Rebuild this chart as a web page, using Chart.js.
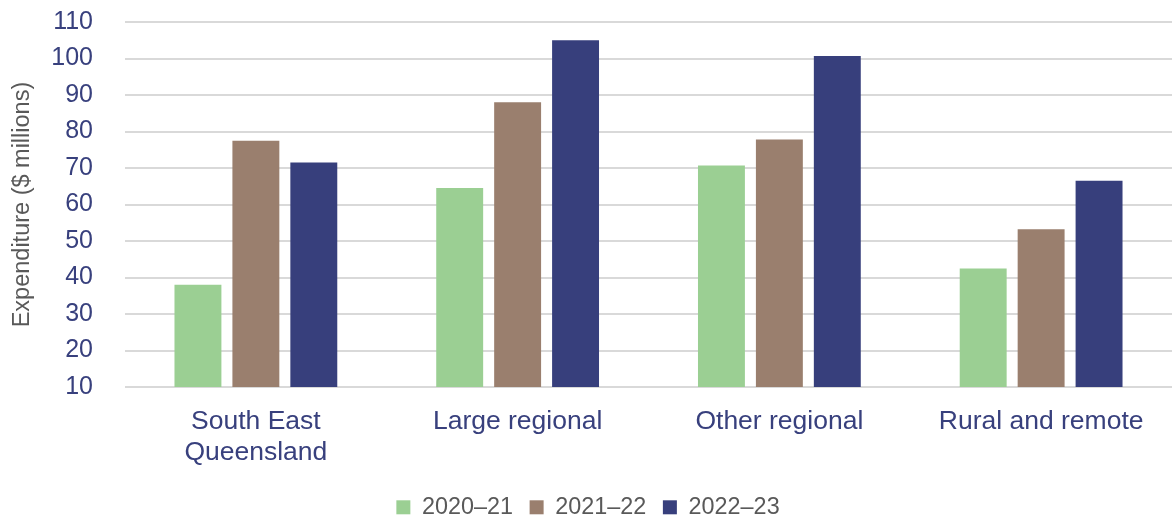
<!DOCTYPE html>
<html>
<head>
<meta charset="utf-8">
<script src="https://cdn.jsdelivr.net/npm/chart.js@4"></script>
<style>
  html, body { margin: 0; padding: 0; background: #fff; }
  #wrap { width: 1172px; height: 519px; position: relative; }
</style>
</head>
<body>
<div id="wrap"><canvas id="expChart"></canvas></div>
<script>
// Regions (x axis)
var regions = [['South East', 'Queensland'], 'Large regional', 'Other regional', 'Rural and remote'];
// Expenditure in $ millions, per financial year
var fy2021 = [38, 64.5, 70.7, 42.5];
var fy2122 = [77.5, 88, 77.8, 53.2];
var fy2223 = [71.5, 105, 100.7, 66.5];
var seriesNames = ['2020\u201321', '2021\u201322', '2022\u201323'];
var yTicks = { min: 10, max: 110, step: 10 };

var tickBlue = '#38407d';
var greyText = '#595959';
var fontFam = 'Liberation Sans, Arial, sans-serif';

var ctx = document.getElementById('expChart').getContext('2d');
new Chart(ctx, {
    type: 'bar',
    data: {
        labels: regions,
        datasets: [
            { label: seriesNames[0], data: fy2021, backgroundColor: '#9bcf93' },
            { label: seriesNames[1], data: fy2122, backgroundColor: '#9a7f6e' },
            { label: seriesNames[2], data: fy2223, backgroundColor: '#373f7c' }
        ]
    },
    options: {
        responsive: true,
        maintainAspectRatio: false,
        animation: false,
        layout: { padding: { left: 4, right: 0, top: 22, bottom: -10 } },
        datasets: {
            bar: { categoryPercentage: 0.664, barPercentage: 0.81 }
        },
        plugins: {
            tooltip: { enabled: false },
            legend: {
                position: 'bottom',
                labels: {
                    font: { family: fontFam, size: 23.4 },
                    color: greyText,
                    boxWidth: 14,
                    boxHeight: 14,
                    padding: 16.5
                }
            }
        },
        scales: {
            x: {
                grid: { display: false },
                border: { display: false },
                ticks: {
                    color: tickBlue,
                    font: { family: fontFam, size: 26.5, lineHeight: 1.17 },
                    padding: 11,
                    maxRotation: 0
                }
            },
            y: {
                min: yTicks.min,
                max: yTicks.max,
                ticks: {
                    stepSize: yTicks.step,
                    autoSkip: false,
                    color: tickBlue,
                    font: { family: fontFam, size: 25 },
                    padding: 0
                },
                // transparent tick marks give the label gap without padding the chart area
                grid: {
                    color: '#d9d9d9',
                    lineWidth: 2,
                    drawTicks: true,
                    tickLength: 32,
                    tickColor: 'rgba(0,0,0,0)'
                },
                border: { display: false },
                title: {
                    display: true,
                    text: 'Expenditure ($ millions)',
                    color: greyText,
                    font: { family: fontFam, size: 23.5 },
                    padding: { top: 4, bottom: 2 }
                },
                afterFit: function (scale) { scale.width = 121; }
            }
        }
    }
});
</script>
</body>
</html>
